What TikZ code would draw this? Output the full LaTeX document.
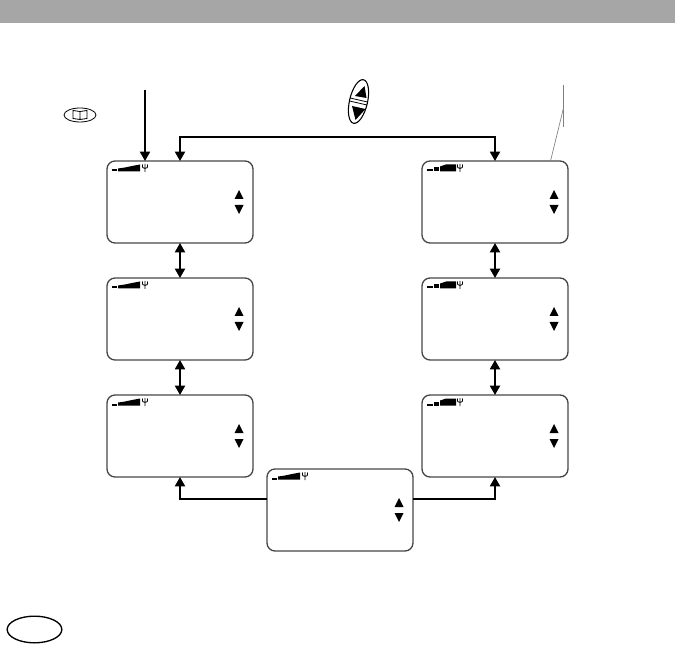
\documentclass[tikz,border=0pt]{standalone}
\usepackage{tikz}
\usetikzlibrary{arrows.meta, positioning, shapes.geometric}
\definecolor{grisBanda}{RGB}{166,166,166}
\definecolor{grisMarco}{RGB}{70,70,70}
\begin{document}
\begin{tikzpicture}[
  x=0.75pt, y=-0.75pt,
  node distance=26.25pt and 126.75pt,
  screen/.style={rectangle, rounded corners=6pt, draw=grisMarco, line width=1pt, outer sep=0pt,
                 minimum width=109.5pt, minimum height=61.5pt, inner sep=0pt},
  arr/.style={-{Triangle[length=7pt, width=7.5pt]}, line width=1.5pt},
  dblarr/.style={{Triangle[length=7pt, width=7.5pt]}-{Triangle[length=7pt, width=7.5pt]}, line width=1.5pt},
  leader/.style={draw=gray, line width=0.5pt}
]
\useasboundingbox (0,0) rectangle (675,645);

% Banda superior
\fill[grisBanda] (0,0) rectangle (675,23.5);

% Pantallas
\node[screen] (L1) at (180,202) {};
\node[screen, below=of L1] (L2) {};
\node[screen, below=of L2] (L3) {};
\node[screen, right=of L1] (R1) {};
\node[screen, below=of R1] (R2) {};
\node[screen, below=of R2] (R3) {};
\node[screen] (B) at (340,510) {};

% Flechas de cada pantalla y antena
\foreach \s in {L1,L2,L3,R1,R2,R3,B} {
  \fill ([shift={(132,29)}]\s.north west) -- ++(-4.5,9) -- ++(9,0) -- cycle;
  \fill ([shift={(132,53)}]\s.north west) -- ++(-4.5,-9) -- ++(9,0) -- cycle;
  \draw[line width=0.6pt] ([shift={(38,3)}]\s.north west) -- ++(0,8)
    ([shift={(35.5,3.5)}]\s.north west) .. controls ++(0,4) and ++(-2.5,-1) .. ++(2.5,4)
    ([shift={(40.5,3.5)}]\s.north west) .. controls ++(0,4) and ++(2.5,-1) .. ++(-2.5,4);
}

% Barras de nivel, continuas a la izquierda
\foreach \s in {L1,L2,L3,B} {
  \fill ([shift={(5,8.5)}]\s.north west) rectangle ++(5,2);
  \fill ([shift={(11,10.5)}]\s.north west) -- ++(0,-3) -- ++(7,-1) -- ++(7,-1.5) -- ++(8,-1.5) -- ++(0,7) -- cycle;
}

% Barras de nivel, con huecos a la derecha
\foreach \s in {R1,R2,R3} {
  \fill ([shift={(5,8.5)}]\s.north west) rectangle ++(6,2);
  \fill ([shift={(12,10.5)}]\s.north west) rectangle ++(4.5,-4);
  \fill ([shift={(18,10.5)}]\s.north west) -- ++(0,-5) -- ++(6,-2) -- ++(10,0) -- ++(0,7) -- cycle;
}

% Conexiones
\coordinate (inicio) at (145,90);
\draw[arr] (inicio) -- (inicio |- L1.north);
\draw[dblarr] (L1.north) -- ++(0,-24) -| (R1.north);
\draw[dblarr] (L1) -- (L2);
\draw[dblarr] (L2) -- (L3);
\draw[dblarr] (R1) -- (R2);
\draw[dblarr] (R2) -- (R3);
\draw[arr] ([yshift=8pt]B.west) -| (L3.south);
\draw[arr] ([yshift=8pt]B.east) -| (R3.south);

% Linea de referencia
\coordinate (refA) at (563.5,85);
\coordinate (refB) at (563.5,127);
\coordinate (refC) at (563.5,108);
\draw[leader] (refA) -- (refB);
\draw[leader] (refC) -- (550.5,161);

% Tecla de libro
\node[ellipse, draw, line width=0.6pt, minimum width=24pt, minimum height=10.5pt, inner sep=0pt] (libro) at (80,115) {};
\draw[line width=0.6pt] (73,110.5) -- (80,111.5) -- (87,110.5) -- (87,118.5) -- (80,119.5) -- (73,118.5) -- cycle (80,111.5) -- (80,119.5);

% Tecla basculante
\node[ellipse, draw, line width=0.8pt, rotate=77, minimum width=33.5pt, minimum height=13.5pt, inner sep=0pt] (tecla) at (358.5,101.5) {};
\draw[line width=0.6pt] (350,98) -- (367.5,102) (349.5,101) -- (367,105);
\fill (364.5,86) -- (366.5,98) -- (355,96) -- cycle;
\fill (352,106) -- (365.5,109) -- (355.5,120) -- cycle;

% Marca inferior
\node[ellipse, draw, line width=1pt, minimum width=41pt, minimum height=20pt, inner sep=0pt] (marca) at (34.5,629.5) {};
\end{tikzpicture}
\end{document}
